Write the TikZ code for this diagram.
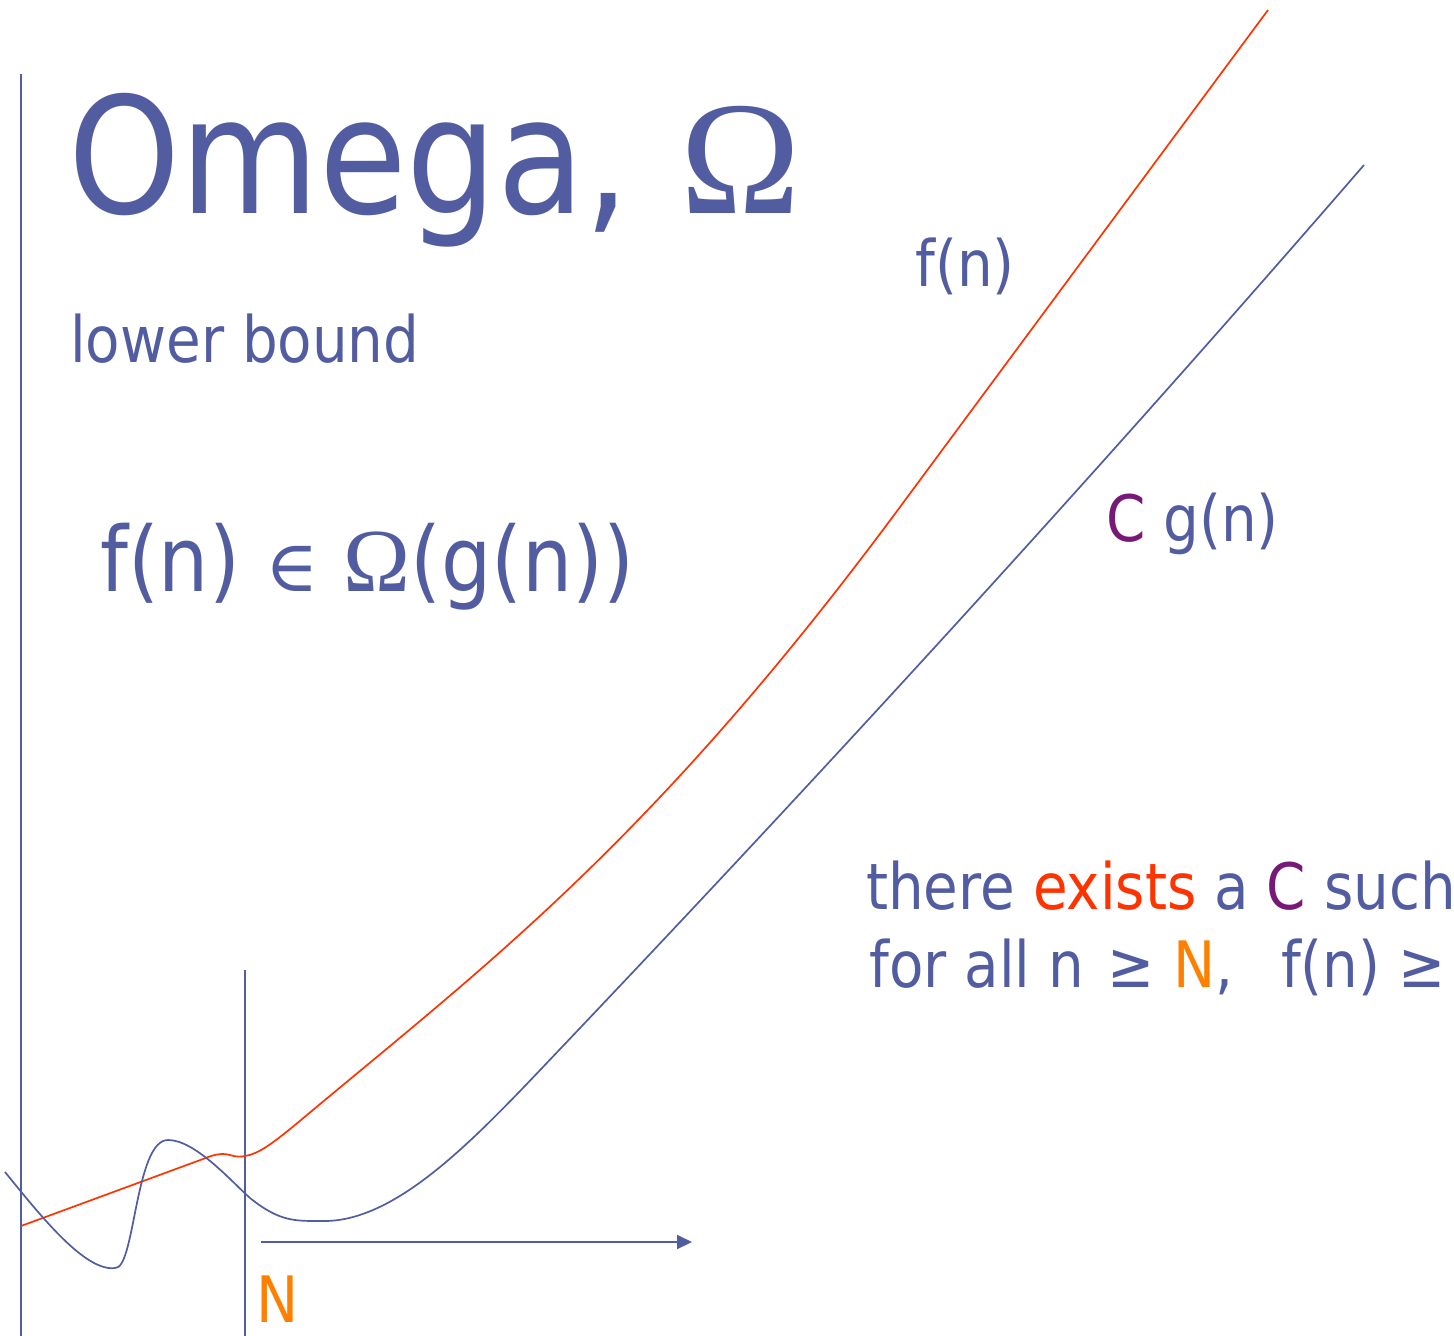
\documentclass[tikz,border=0pt]{standalone}
\usepackage{fontspec}
\setmainfont{DejaVu Sans}[FakeStretch=0.88]
\newfontfamily\greekfont{Liberation Serif}
\newfontfamily\elemfont{DejaVu Serif}
\usetikzlibrary{arrows.meta}
\definecolor{slide}{RGB}{82,92,160}
\definecolor{fred}{RGB}{255,51,0}
\definecolor{cpurple}{RGB}{119,25,119}
\definecolor{norange}{RGB}{255,128,0}

\begin{document}
\begin{tikzpicture}[
  x=1pt, y=-1pt,
  axis/.style   = {draw=slide, line width=1.8pt},
  fcurve/.style = {draw=fred, line width=1.7pt},
  gcurve/.style = {draw=slide, line width=1.7pt},
  arr/.style    = {-{Triangle[length=15pt,width=14pt]}, draw=slide, line width=2pt},
  txt/.style    = {anchor=base west, inner sep=0pt, text=slide},
  body/.style   = {txt, font=\fontsize{64}{78}\selectfont}
]
\useasboundingbox (0,0) rectangle (1454,1336);

\node[txt, font=\fontsize{162}{162}\selectfont] (title) at (68,213) {Omega,\hspace{5pt} {\greekfont Ω}};
\node[body]  (lower)   at (70,362)   {lower bound};
\node[txt, font=\fontsize{90}{90}\selectfont] (formula) at (100,591) {f(n) {\elemfont\fontsize{72}{72}\selectfont ∈} {\greekfont Ω}(g(n))};
\node[body]  (flabel)  at (915,286)  {f(n)};
\node[body]  (glabel)  at (1106,541) {\textcolor{cpurple}{C} g(n)};
\node[body]  (exists)  at (866,909)  {there \textcolor{fred}{exists} a \textcolor{cpurple}{C} such};
\node[body]  (forall)  at (869,987)  {for all n\hspace{24pt}≥ \textcolor{norange}{N},\hspace{48pt}f(n) ≥};
\node[body, text=norange] (nlabel) at (256,1322) {N};

\coordinate (ytop)  at (21,74);
\coordinate (ybot)  at (21,1336);
\coordinate (ntop)  at (245,970);
\coordinate (nbot)  at (245,1336);
\coordinate (xfrom) at (261,1242);
\coordinate (xto)   at (692,1242);

\draw[axis] (ytop) -- (ybot);
\draw[axis] (ntop) -- (nbot);
\draw[arr] (xfrom) -- (xto);

% f(n)
\draw[fcurve] (21,1226) -- (203,1159)
  .. controls (215,1154) and (222,1153) .. (230,1155)
  .. controls (236,1157) and (241,1157) .. (245,1156)
  .. controls (258,1154) and (271,1145) .. (301,1120)
  .. controls (481,969) and (650,845) .. (900,507)
  -- (1268,10);
% C g(n)
\draw[gcurve] (5,1172)
  .. controls (40,1215) and (85,1272) .. (115,1268)
  .. controls (135,1270) and (135,1140) .. (168,1140)
  .. controls (195,1140) and (230,1180) .. (250,1198)
  .. controls (280,1222) and (295,1221) .. (323,1221)
  .. controls (400,1222) and (482,1131) .. (562,1047)
  .. controls (830,765) and (1100,470) .. (1364,165);
\end{tikzpicture}
\end{document}
